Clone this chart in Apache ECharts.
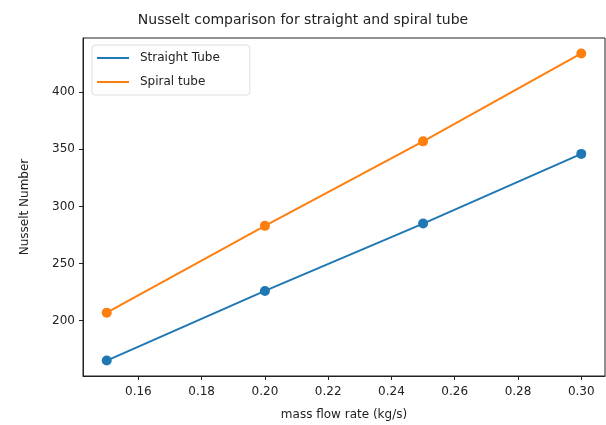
<!DOCTYPE html>
<html>
<head>
<meta charset="utf-8">
<script src="https://cdn.jsdelivr.net/npm/echarts@6/dist/echarts.min.js"></script>
<style>
  html, body { margin: 0; padding: 0; background: #fff; }
  #chart { width: 606px; height: 425px; }
</style>
</head>
<body>
<div id="chart"></div>
<script>
// values
var massFlow = [0.15, 0.20, 0.25, 0.30]
var straightTube = [165, 226, 285, 346]
var spiralTube = [207, 283, 357, 434]
var xTicks = [0.16, 0.18, 0.20, 0.22, 0.24, 0.26, 0.28, 0.30]
var yTicks = [200, 250, 300, 350, 400]

var font = 'DejaVu Sans'
var myChart = echarts.init(document.getElementById('chart'))

function pairs(ys) {
    return massFlow.map(function (x, i) { return [x, ys[i]] })
}

var option = {
    animation: false,
    textStyle: { fontFamily: font },
    title: {
        text: 'Nusselt comparison for straight and spiral tube',
        left: 'center',
        top: 8,
        textStyle: { fontFamily: font, fontSize: 14, fontWeight: 'normal', color: '#222' }
    },
    legend: {
        orient: 'vertical',
        left: 92,
        top: 45,
        padding: [7, 30, 7, 5],
        itemGap: 12,
        itemWidth: 32,
        itemHeight: 2,
        icon: 'rect',
        borderColor: '#ddd',
        borderWidth: 1,
        borderRadius: 3,
        backgroundColor: 'rgba(255,255,255,0.8)',
        textStyle: { fontFamily: font, fontSize: 12, color: '#222', padding: [0, 0, 0, 6] },
        data: ['Straight Tube', 'Spiral tube']
    },
    grid: {
        left: 83, right: 1, top: 38, bottom: 49,
        outerBoundsMode: 'none',
        show: true, borderColor: '#222', borderWidth: 1
    },
    xAxis: {
        type: 'value',
        min: 0.1425,
        max: 0.3075,
        name: 'mass flow rate (kg/s)',
        nameLocation: 'middle',
        nameGap: 33,
        nameTextStyle: { fontFamily: font, fontSize: 12, color: '#222' },
        splitLine: { show: false },
        axisLine: { show: true, lineStyle: { color: '#222' } },
        axisTick: { show: true, length: 4, lineStyle: { color: '#222' }, customValues: xTicks },
        axisLabel: {
            fontFamily: font, fontSize: 12, color: '#222', margin: 10,
            customValues: xTicks,
            formatter: function (v) { return v.toFixed(2) }
        }
    },
    yAxis: {
        type: 'value',
        min: 151.5,
        max: 447.5,
        name: 'Nusselt Number',
        nameLocation: 'middle',
        nameGap: 52,
        nameTextStyle: { fontFamily: font, fontSize: 12, color: '#222' },
        splitLine: { show: false },
        axisLine: { show: true, lineStyle: { color: '#222' } },
        axisTick: { show: true, length: 4, lineStyle: { color: '#222' }, customValues: yTicks },
        axisLabel: {
            fontFamily: font, fontSize: 12, color: '#222', margin: 8,
            customValues: yTicks
        }
    },
    series: [
        {
            name: 'Straight Tube',
            type: 'line',
            data: pairs(straightTube),
            color: '#1f77b4',
            symbol: 'circle',
            symbolSize: 10,
            lineStyle: { width: 2 }
        },
        {
            name: 'Spiral tube',
            type: 'line',
            data: pairs(spiralTube),
            color: '#ff7f0e',
            symbol: 'circle',
            symbolSize: 10,
            lineStyle: { width: 2 }
        }
    ]
}

myChart.setOption(option)
</script>
</body>
</html>
